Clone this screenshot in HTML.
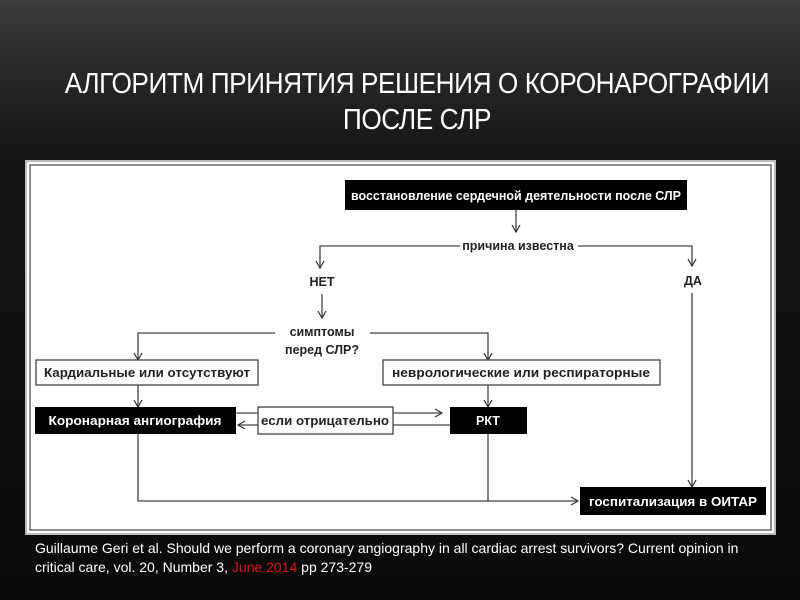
<!DOCTYPE html>
<html><head><meta charset="utf-8"><style>
html,body{margin:0;padding:0;}
body{width:800px;height:600px;overflow:hidden;background:linear-gradient(#3c3c3c 0px,#262626 80px,#141414 160px,#0a0a0a 600px);position:relative;font-family:"Liberation Sans","DejaVu Sans",sans-serif;}
.t{position:absolute;left:17px;width:800px;text-align:center;color:#fff;font-size:29px;letter-spacing:-0.5px;}
.cap{position:absolute;left:35px;top:539px;color:#fff;font-size:14px;line-height:19px;width:760px;white-space:nowrap;}
</style></head><body>
<div class="t" style="top:68px;transform:scaleX(0.905);transform-origin:400px 0">АЛГОРИТМ ПРИНЯТИЯ РЕШЕНИЯ О КОРОНАРОГРАФИИ</div>
<div class="t" style="top:104px;transform:scaleX(0.905);transform-origin:400px 0">ПОСЛЕ СЛР</div>
<svg style="position:absolute;left:0;top:0" width="800" height="600" font-family="Liberation Sans, DejaVu Sans, sans-serif" font-weight="bold" font-size="12.5">
<defs><marker id="a" markerWidth="10" markerHeight="10" refX="8" refY="5" orient="auto" markerUnits="userSpaceOnUse"><path d="M1,1 L8,5 L1,9" fill="none" stroke="#333" stroke-width="1.2"/></marker></defs>
<rect x="26" y="161" width="749" height="373" fill="#fff" stroke="#bbb" stroke-width="2"/>
<rect x="30" y="165" width="741" height="365" fill="none" stroke="#444" stroke-width="1.2"/>
<g stroke="#444" stroke-width="1.3" fill="none">
<line x1="516" y1="210" x2="516" y2="232" marker-end="url(#a)"/>
<polyline points="460,246 320,246 320,268" marker-end="url(#a)"/>
<polyline points="578,246 692,246 692,266" marker-end="url(#a)"/>
<line x1="322" y1="294" x2="322" y2="318" marker-end="url(#a)"/>
<polyline points="275,333 138,333 138,360" marker-end="url(#a)"/>
<polyline points="370,333 488,333 488,360" marker-end="url(#a)"/>
<line x1="138" y1="385" x2="138" y2="407" marker-end="url(#a)"/>
<line x1="488" y1="385" x2="488" y2="407" marker-end="url(#a)"/>
<line x1="236" y1="413" x2="258" y2="413"/>
<line x1="393" y1="413" x2="442" y2="413" marker-end="url(#a)"/>
<line x1="450" y1="425" x2="393" y2="425"/>
<line x1="258" y1="425" x2="238" y2="425" marker-end="url(#a)"/>
<polyline points="138,434 138,501 578,501" marker-end="url(#a)"/>
<line x1="488" y1="434" x2="488" y2="501"/>
<line x1="692" y1="293" x2="692" y2="487" marker-end="url(#a)"/>
</g>
<rect x="345" y="180" width="342" height="30" fill="#000"/>
<text x="516" y="200" fill="#fff" text-anchor="middle" textLength="330" lengthAdjust="spacingAndGlyphs">восстановление сердечной деятельности после СЛР</text>
<text x="518" y="250" fill="#222" text-anchor="middle">причина известна</text>
<text x="322" y="286" fill="#222" text-anchor="middle">НЕТ</text>
<text x="693" y="285" fill="#222" text-anchor="middle">ДА</text>
<text x="322" y="336" fill="#222" text-anchor="middle">симптомы</text>
<text x="322" y="354" fill="#222" text-anchor="middle">перед СЛР?</text>
<rect x="36" y="360" width="222" height="25" fill="#fff" stroke="#444" stroke-width="1.3"/>
<text x="147" y="377" fill="#222" text-anchor="middle" textLength="206" lengthAdjust="spacingAndGlyphs">Кардиальные или отсутствуют</text>
<rect x="383" y="360" width="277" height="25" fill="#fff" stroke="#444" stroke-width="1.3"/>
<text x="521" y="377" fill="#222" text-anchor="middle" textLength="258" lengthAdjust="spacingAndGlyphs">неврологические или респираторные</text>
<rect x="35" y="407" width="201" height="27" fill="#000"/>
<text x="135" y="425" fill="#fff" text-anchor="middle" textLength="173" lengthAdjust="spacingAndGlyphs">Коронарная ангиография</text>
<rect x="258" y="407" width="135" height="27" fill="#fff" stroke="#444" stroke-width="1.3"/>
<text x="325" y="425" fill="#222" text-anchor="middle" textLength="128" lengthAdjust="spacingAndGlyphs">если отрицательно</text>
<rect x="450" y="407" width="77" height="27" fill="#000"/>
<text x="488" y="425" fill="#fff" text-anchor="middle">РКТ</text>
<rect x="580" y="487" width="186" height="28" fill="#000"/>
<text x="673" y="506" fill="#fff" text-anchor="middle" textLength="168" lengthAdjust="spacingAndGlyphs">госпитализация в ОИТАР</text>
</svg>
<div class="cap">Guillaume Geri et al. Should we perform a coronary angiography in all cardiac arrest survivors? Current opinion in<br>critical care, vol. 20, Number 3, <span style="color:#e01010">June 2014</span> pp 273-279</div>
</body></html>
